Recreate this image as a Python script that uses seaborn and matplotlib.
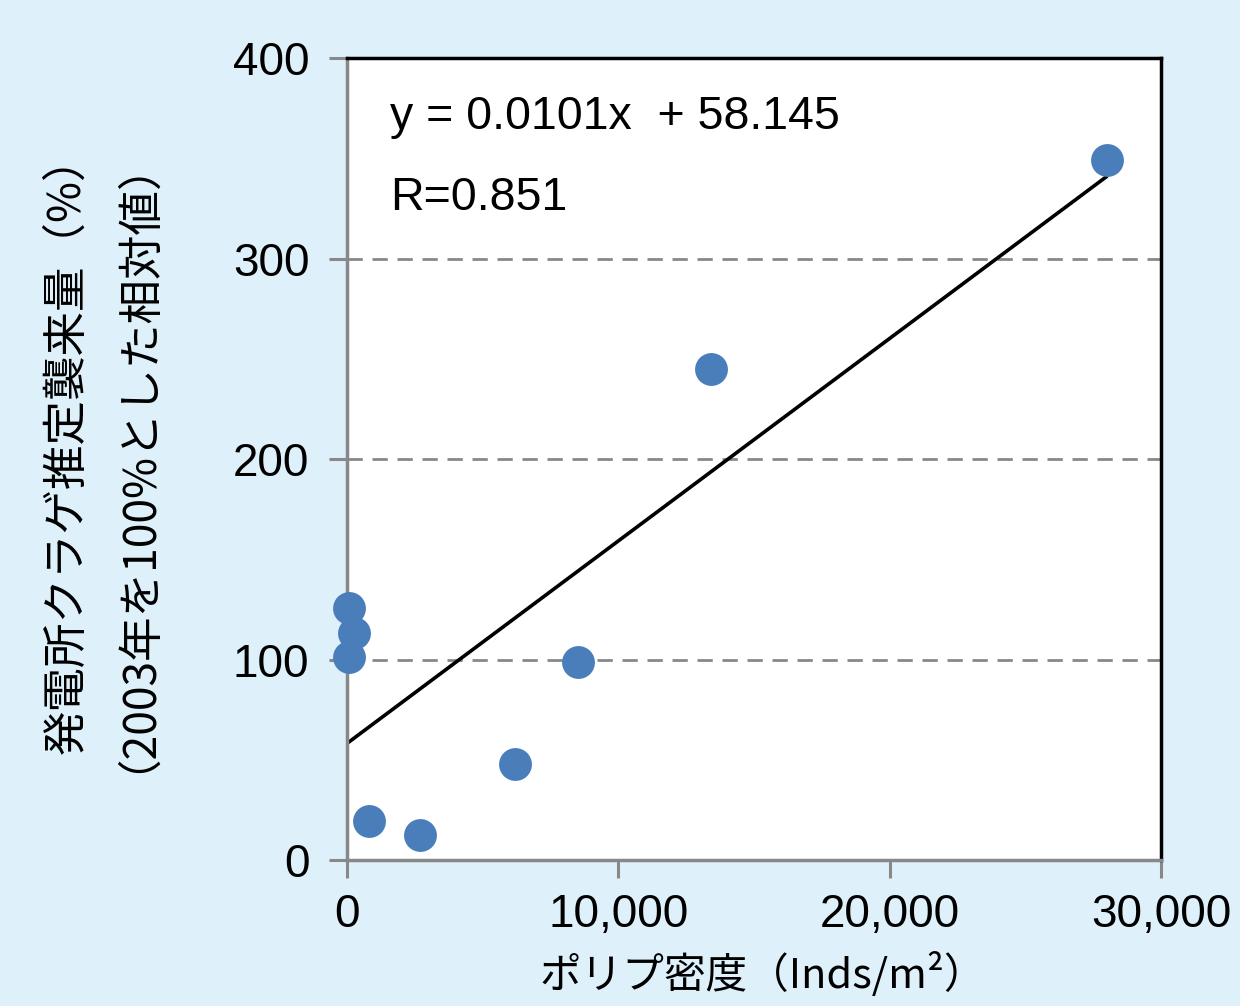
import numpy as np
import pandas as pd
import matplotlib
matplotlib.use("Agg")
import matplotlib.pyplot as plt
import seaborn as sns

# values
polyp_density = [28000, 13400, 8500, 6200, 2700, 800, 60, 260, 60]
jelly_pct = [349, 245, 99, 48, 12.5, 19.5, 125.5, 113, 101.5]

slope = 0.0101
intercept = 58.145
r_value = 0.851

x_ticks = [0, 10000, 20000, 30000]
x_ticklabels = ["0", "10,000", "20,000", "30,000"]
y_ticks = [0, 100, 200, 300, 400]

xlabel = "ポリプ密度（Inds/m²）"
ylabel = "発電所クラゲ推定襲来量（%）\n（2003年を100%とした相対値）"

bg = "#DEF0FA"
dot = "#4A7EBB"
grey = "#888888"

sns.set_style("white", {"text.color": "black", "axes.labelcolor": "black",
                        "xtick.color": "black", "ytick.color": "black",
                        "xtick.bottom": True, "ytick.left": True})
plt.rcParams["font.family"] = ["Liberation Sans", "Noto Sans CJK JP", "DejaVu Sans"]

df = pd.DataFrame({"density": polyp_density, "pct": jelly_pct})

fig = plt.figure(figsize=(12.4, 10.06), dpi=100, facecolor=bg)
ax = fig.add_axes([0.2798, 0.1451, 0.6565, 0.7972])
ax.set_facecolor("white")

# dashed horizontal grid
for yv in y_ticks[1:]:
    ax.axhline(yv, color=grey, lw=2, dashes=(5.5, 3.5), zorder=1)

# fitted line from the stated coefficients
line_x = np.array([0, max(polyp_density)])
line_df = pd.DataFrame({"x": line_x, "y": slope * line_x + intercept})
sns.lineplot(data=line_df, x="x", y="y", color="black", lw=2.6, ax=ax, zorder=2)

# points near x=0 spill over the left spine in the original, so no clipping
sns.scatterplot(data=df, x="density", y="pct", s=560, color=dot,
                edgecolor=dot, linewidth=0, ax=ax, zorder=4, clip_on=False)

ax.set_xlim(0, 30000)
ax.set_ylim(0, 400)
ax.set_xticks(x_ticks)
ax.set_xticklabels(x_ticklabels)
ax.set_yticks(y_ticks)
ax.tick_params(axis="both", labelsize=33, labelcolor="black", length=13,
               width=2.2, color=grey, direction="out")
ax.tick_params(axis="x", pad=11)
ax.tick_params(axis="y", pad=14)

for side in ["left", "bottom"]:
    ax.spines[side].set_color(grey)
    ax.spines[side].set_linewidth(2.5)
for side in ["top", "right"]:
    ax.spines[side].set_color("black")
    ax.spines[side].set_linewidth(2.5)
for s in ax.spines.values():
    s.set_visible(True)
    s.set_zorder(3)

ax.text(0.053, 0.9115, f"y = {slope}x  + {intercept}", transform=ax.transAxes,
        fontsize=33.5, ha="left", va="baseline", family="Liberation Sans")
ax.text(0.053, 0.811, f"R={r_value}", transform=ax.transAxes,
        fontsize=33.5, ha="left", va="baseline", family="Liberation Sans")

cjk = ["Noto Sans CJK JP", "DejaVu Sans"]
ax.set_xlabel(xlabel, fontsize=30, family=cjk)
ax.set_ylabel(ylabel, fontsize=32, family=cjk, linespacing=1.0)
ax.yaxis.label.set_va("center")
ax.xaxis.label.set_va("center")
ax.xaxis.set_label_coords(0.511, -0.143)
ax.yaxis.set_label_coords(-0.316, 0.519)

fig.savefig("out.png", dpi=100, facecolor=bg)
